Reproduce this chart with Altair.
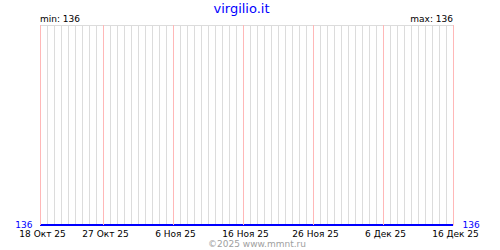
import altair as alt
import pandas as pd

# ---- data ----
start_date = "2025-10-18"
end_date = "2025-12-16"
label_dates = ["2025-10-18", "2025-10-27", "2025-11-06", "2025-11-16",
               "2025-11-26", "2025-12-06", "2025-12-16"]
values = [136] * 60  # constant series
title_text = "virgilio.it"
copyright_text = "©2025 www.mmnt.ru"
months_ru = ["Янв", "Фев", "Мар", "Апр", "Май", "Июн",
             "Июл", "Авг", "Сен", "Окт", "Ноя", "Дек"]

days = pd.date_range(start_date, end_date, freq="D")
series_df = pd.DataFrame({"date": days.strftime("%Y-%m-%d"), "v": values})
day_strs = [d for d in days.strftime("%Y-%m-%d") if d not in label_dates]
days_df = pd.DataFrame({"date": day_strs})
labels_df = pd.DataFrame({"date": label_dates})

vmin, vmax = min(values), max(values)
min_df = pd.DataFrame({"t": [f"min: {vmin}"]})
max_df = pd.DataFrame({"t": [f"max: {vmax}"]})
copy_df = pd.DataFrame({"t": [copyright_text]})
title_df = pd.DataFrame({"t": [title_text]})
top_df = pd.DataFrame({"k": [0]})

FONT = "DejaVu Sans"
W, H = 413, 200

ms = lambda d: int(pd.Timestamp(d, tz="UTC").timestamp() * 1000)
xdomain = [ms(start_date), ms(end_date)]
tick_vals = [ms(d) for d in label_dates]

month_arr = "[" + ",".join(f"'{m}'" for m in months_ru) + "]"
label_expr = ("utcdate(datum.value) + ' ' + " + month_arr +
              "[utcmonth(datum.value)] + ' ' + utcFormat(datum.value, '%y')")

x_axis = alt.Axis(values=tick_vals, labelExpr=label_expr, title=None,
                  grid=True, gridColor="#ffbcbc", gridWidth=1, gridOpacity=1,
                  ticks=False, domain=False, labelPadding=4,
                  labelFont=FONT, labelFontSize=9, labelColor="#000000",
                  labelOffset=2, labelFlush=False, labelOverlap=False)
x_scale = alt.Scale(type="utc", domain=xdomain)
x_enc = alt.X("date:T", scale=x_scale, axis=x_axis)
y_scale = alt.Scale(domain=[vmin, vmin + 1])

gray = alt.Chart(days_df).mark_rule(color="#dcdcdc", strokeWidth=1, xOffset=0.5).encode(x=x_enc)
top = alt.Chart(top_df).mark_rule(color="#dcdcdc", strokeWidth=1, yOffset=0.5).encode(
    x=alt.value(1), x2=alt.value(W), y=alt.value(0))

y_axis_l = alt.Axis(values=[vmin], title=None, grid=False, ticks=False, domain=False,
                    labelPadding=8, labelFont=FONT, labelFontSize=9, labelColor="#0000ff",
                    labelBaseline="alphabetic", labelOffset=2, orient="left")
y_axis_r = alt.Axis(values=[vmin], title=None, grid=False, ticks=False, domain=False,
                    labelPadding=9, labelFont=FONT, labelFontSize=9, labelColor="#0000ff",
                    labelBaseline="alphabetic", labelOffset=2, orient="right")

line_l = alt.Chart(series_df).mark_line(color="#0000ff", strokeWidth=2).encode(
    x=x_enc, y=alt.Y("v:Q", scale=y_scale, axis=y_axis_l))
line_r = alt.Chart(series_df).mark_line(color="#0000ff", strokeWidth=2).encode(
    x=x_enc, y=alt.Y("v:Q", scale=y_scale, axis=y_axis_r))

min_t = alt.Chart(min_df).mark_text(font=FONT, fontSize=9, align="left",
                                    baseline="alphabetic", color="#000000").encode(
    text="t:N", x=alt.value(0), y=alt.value(-3))
max_t = alt.Chart(max_df).mark_text(font=FONT, fontSize=9, align="right",
                                    baseline="alphabetic", color="#000000").encode(
    text="t:N", x=alt.value(W), y=alt.value(-3))
copy_t = alt.Chart(copy_df).mark_text(font=FONT, fontSize=9, align="center",
                                      baseline="alphabetic", color="#a0a0a0").encode(
    text="t:N", x=alt.value(217), y=alt.value(222))
title_t = alt.Chart(title_df).mark_text(font=FONT, fontSize=13, align="center",
                                        baseline="alphabetic", color="#0000ff").encode(
    text="t:N", x=alt.value(201.5), y=alt.value(-12.5))

# pink day-marker lines drawn last so nothing can cover them
pink = alt.Chart(labels_df).mark_rule(color="#ffb8b8", strokeWidth=1, xOffset=0.5,
                                      y2Offset=-1).encode(x=x_enc)

chart = alt.layer(gray, top, line_l, line_r, min_t, max_t, copy_t, title_t, pink).resolve_axis(
    y="independent").properties(
    width=W, height=H,
    autosize=alt.AutoSizeParams(type="none"),
    padding={"left": 40, "top": 25, "right": 47, "bottom": 25},
    background="#ffffff",
).configure_view(stroke=None)

chart.save("out.html", embed_options={"renderer": "svg", "actions": False})
